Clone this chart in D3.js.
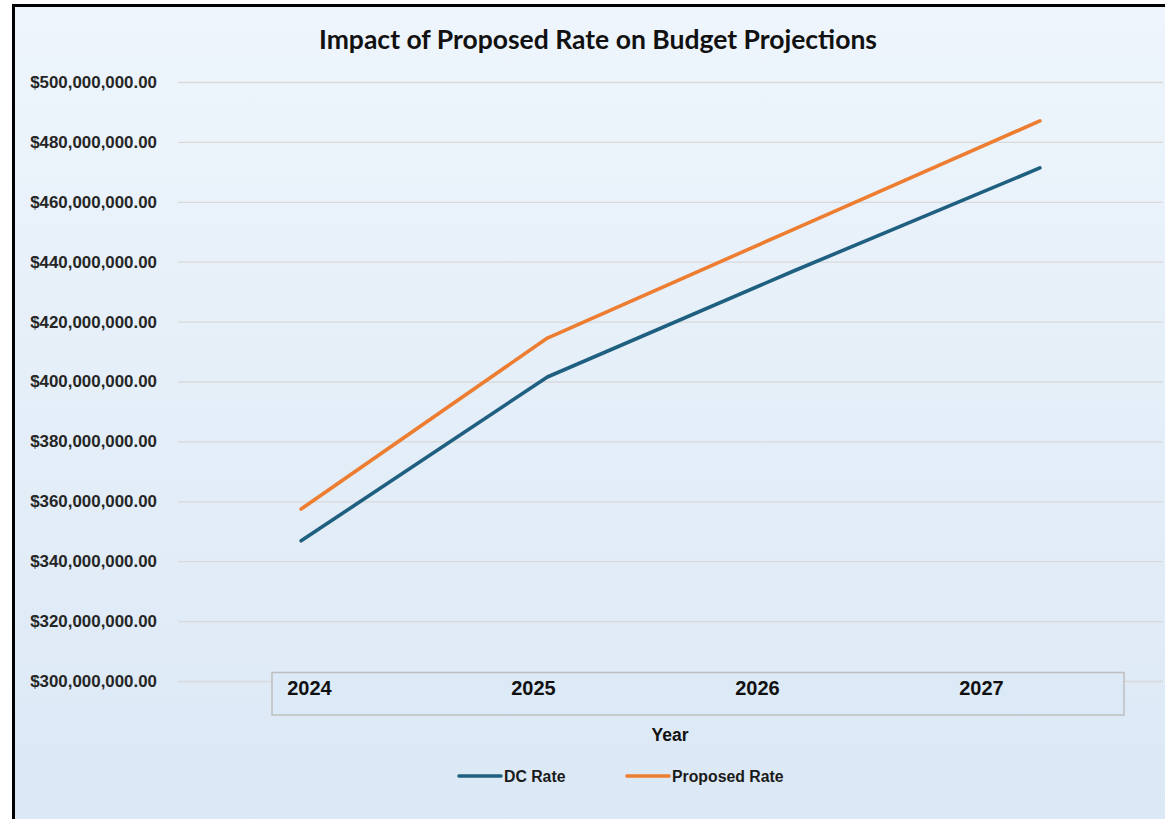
<!DOCTYPE html>
<html>
<head>
<meta charset="utf-8">
<script src="https://cdn.jsdelivr.net/npm/d3@7"></script>
<style>
  html, body { margin: 0; padding: 0; background: #ffffff; }
  svg { display: block; }
</style>
</head>
<body>
<svg id="chart" width="1165" height="819"></svg>
<script>
// Years shown on the category axis
const years = ["2024", "2025", "2026", "2027"];
// Budget projections per year (dollars)
const dcRate = [346800000, 401500000, 436900000, 471300000];
const proposedRate = [357400000, 414500000, 450800000, 487000000];
// Value axis ticks
const yTicks = [300000000, 320000000, 340000000, 360000000, 380000000, 400000000,
                420000000, 440000000, 460000000, 480000000, 500000000];
const seriesNames = ["DC Rate", "Proposed Rate"];
const seriesColors = ["#1f5f80", "#ed7d31"];

const svg = d3.select("#chart");
const W = 1165, H = 819;

// Chart area background with soft vertical gradient
const defs = svg.append("defs");
const grad = defs.append("linearGradient")
  .attr("id", "bg").attr("x1", 0).attr("y1", 0).attr("x2", 0).attr("y2", 1);
grad.append("stop").attr("offset", "0%").attr("stop-color", "#eef5fc");
grad.append("stop").attr("offset", "100%").attr("stop-color", "#dbe8f5");

svg.append("rect")
  .attr("x", 13.5).attr("y", 5.5)
  .attr("width", W).attr("height", H)
  .attr("fill", "url(#bg)")
  .attr("stroke", "#000").attr("stroke-width", 3);

// Plot geometry
const plot = { left: 178, right: 1163, top: 82, bottom: 681 };

const x = d3.scalePoint().domain(years)
  .range([plot.left, plot.right]).padding(0.5);
const y = d3.scaleLinear().domain([300000000, 500000000])
  .range([plot.bottom, plot.top]);

// Horizontal gridlines and value labels
const yAxis = d3.axisLeft(y)
  .tickValues(yTicks)
  .tickFormat(d3.format("$,.2f"))
  .tickSize(-(plot.right - plot.left))
  .tickPadding(21);

const gy = svg.append("g")
  .attr("transform", `translate(${plot.left},0)`)
  .call(yAxis);
gy.select(".domain").remove();
gy.selectAll(".tick line").attr("stroke", "#d9d9d9").attr("stroke-width", 1.3);
gy.selectAll(".tick text")
  .attr("fill", "#262626")
  .style("font-family", "'Liberation Sans', Arial, sans-serif")
  .style("font-weight", "bold")
  .style("font-size", "16.9px");

// Category label box
const box = { x0: 272, x1: 1124, y0: 672.5, y1: 715 };
svg.append("rect")
  .attr("x", box.x0).attr("y", box.y0)
  .attr("width", box.x1 - box.x0).attr("height", box.y1 - box.y0)
  .attr("fill", "#dce9f6")
  .attr("stroke", "#bfbfbf").attr("stroke-width", 1.5);

const xLabel = d3.scalePoint().domain(years).range([309, 981]);
const gx = svg.append("g")
  .attr("transform", `translate(0,${box.y0})`)
  .call(d3.axisBottom(xLabel).tickSize(0).tickPadding(8));
gx.select(".domain").remove();
gx.selectAll(".tick text")
  .attr("fill", "#111")
  .style("font-family", "'Liberation Sans', Arial, sans-serif")
  .style("font-weight", "bold")
  .style("font-size", "20px");

// Axis title
svg.append("text")
  .attr("x", 670).attr("y", 741)
  .attr("text-anchor", "middle")
  .attr("fill", "#111")
  .style("font-family", "'Liberation Sans', Arial, sans-serif")
  .style("font-weight", "bold")
  .style("font-size", "17.5px")
  .text("Year");

// Chart title
svg.append("text")
  .attr("x", 598).attr("y", 49)
  .attr("text-anchor", "middle")
  .attr("fill", "#111")
  .style("font-family", "Lato, 'Open Sans', sans-serif")
  .style("font-weight", "bold")
  .style("font-size", "26.5px")
  .text("Impact of Proposed Rate on Budget Projections");

// Series lines
const series = [dcRate, proposedRate];
const line = d3.line()
  .x((d, i) => x(years[i]))
  .y(d => y(d));

svg.append("g").selectAll("path")
  .data(series)
  .join("path")
  .attr("d", line)
  .attr("fill", "none")
  .attr("stroke", (d, i) => seriesColors[i])
  .attr("stroke-width", 3.6)
  .attr("stroke-linejoin", "round")
  .attr("stroke-linecap", "round");

// Legend
const legendX = [459, 627];
const legend = svg.append("g").attr("transform", "translate(0,776)");
seriesNames.forEach((name, i) => {
  const g = legend.append("g").attr("transform", `translate(${legendX[i]},0)`);
  g.append("line")
    .attr("x1", 0).attr("x2", 42)
    .attr("stroke", seriesColors[i]).attr("stroke-width", 3.6)
    .attr("stroke-linecap", "round");
  g.append("text")
    .attr("x", 45).attr("dy", "0.35em")
    .attr("fill", "#1a1a1a")
    .style("font-family", "'Liberation Sans', Arial, sans-serif")
    .style("font-weight", "bold")
    .style("font-size", "15.8px")
    .text(name);
});
</script>
</body>
</html>
